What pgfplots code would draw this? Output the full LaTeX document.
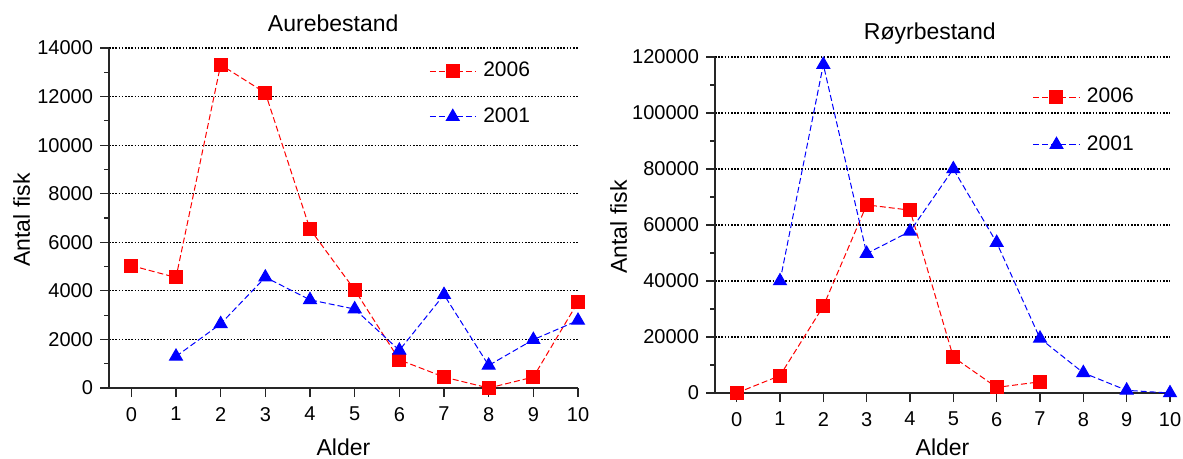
\documentclass[border=0pt]{standalone}
\usepackage{fontspec}
\setmainfont{Liberation Sans}
\usepackage{pgfplots}
\pgfplotsset{compat=1.18}

\pgfplotsset{
  fiskaxis/.style={
    scale only axis,
    axis x line*=bottom,
    axis y line*=left,
    axis line style={line width=0.6pt, black!85},
    xmin=-0.5, xmax=10,
    xtick={0,...,10},
    ymin=0,
    tick align=outside,
    major tick length=4.5pt,
    minor tick length=2.5pt,
    tick style={line width=0.6pt, black!85},
    minor y tick num=1,
    ymajorgrids,
    grid style={black, line width=0.6pt, dash pattern=on 0.8pt off 0.8pt},
    clip=false,
    tick label style={font=\fontsize{10}{12}\selectfont},
    xticklabel style={yshift=-1.5pt},
    /pgf/number format/assume math mode=true,
    /pgf/number format/fixed,
    /pgf/number format/1000 sep={},
    scaled y ticks=false,
    label style={font=\fontsize{11.5}{13}\selectfont},
    every axis title shift=0pt,
    title style={font=\fontsize{11.5}{13}\selectfont, anchor=center},
    legend cell align=left,
    legend style={draw=none, fill=none, inner sep=0pt, column sep=3.5pt,
      font=\fontsize{10.5}{12}\selectfont, nodes={inner sep=0pt}},
    legend image code/.code={
      \draw[mark repeat=2, mark phase=2] plot coordinates {(0pt,0pt) (11.5pt,0pt) (23pt,0pt)};},
  },
  s06/.style={red, line width=0.5pt, dash pattern=on 3pt off 1.5pt,
    mark=square*, mark size=3.25pt, mark options={solid, fill=red}},
  s01/.style={blue, line width=0.5pt, dash pattern=on 3pt off 1.5pt,
    mark=triangle*, mark size=3.7pt, mark options={solid, fill=blue}},
}

\begin{document}
\begin{tikzpicture}
\useasboundingbox (0,0) rectangle (591.5pt,-229.5pt);

% Aurebestand
\begin{axis}[
  fiskaxis,
  at={(54.5pt,-194pt)}, anchor=south west,
  width=234.5pt, height=170pt,
  ymax=14000,
  ytick={0,2000,...,14000},
  title={Aurebestand},
  title style={at={(axis description cs:0.478,1.074)}},
  xlabel={Alder},
  xlabel style={at={(axis description cs:0.5,-0.1735)}, anchor=center},
  ylabel={Antal fisk},
  ylabel style={at={(axis description cs:-0.186,0.494)}, anchor=center, rotate=0},
  legend style={at={(axis description cs:0.682,0.865)}, anchor=west, row sep=14pt},
]
\addplot[s06] coordinates {
  (0,5040) (1,4550) (2,13310) (3,12150) (4,6540) (5,4040)
  (6,1160) (7,450) (8,0) (9,450) (10,3540)
};
\addlegendentry{2006}
\addplot[s01] coordinates {
  (1,1300) (2,2640) (3,4560) (4,3630) (5,3250) (6,1550)
  (7,3840) (8,930) (9,1990) (10,2780)
};
\addlegendentry{2001}
\end{axis}

% Røyrbestand
\begin{axis}[
  fiskaxis,
  at={(357.5pt,-196.5pt)}, anchor=south west,
  width=227.5pt, height=168pt,
  ymax=120000,
  ytick={0,20000,...,120000},
  title={Røyrbestand},
  title style={at={(axis description cs:0.472,1.071)}},
  xlabel={Alder},
  xlabel style={at={(axis description cs:0.5,-0.161)}, anchor=center},
  ylabel={Antal fisk},
  ylabel style={at={(axis description cs:-0.212,0.494)}, anchor=center, rotate=0},
  legend style={at={(axis description cs:0.698,0.810)}, anchor=west, row sep=15pt},
]
\addplot[s06] coordinates {
  (0,0) (1,6200) (2,31000) (3,67200) (4,65300) (5,12800) (6,2000) (7,4000)
};
\addlegendentry{2006}
\addplot[s01] coordinates {
  (1,40000) (2,117300) (3,49800) (4,57700) (5,80000) (6,53700)
  (7,19500) (8,7200) (9,950) (10,0)
};
\addlegendentry{2001}
\end{axis}
\end{tikzpicture}
\end{document}
